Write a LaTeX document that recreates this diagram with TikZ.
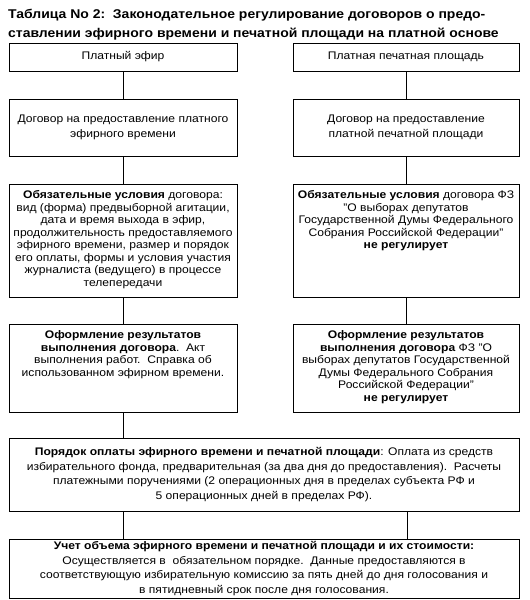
\documentclass[tikz,border=0pt]{standalone}
\usepackage{fontspec}
\setmainfont[FakeStretch=1.1]{Liberation Sans}
\begin{document}
\begin{tikzpicture}[x=1pt,y=-1pt,
  box/.style={draw, line width=0.8pt, inner sep=0pt},
  wl/.style={box, minimum width=228pt},
  wr/.style={box, minimum width=226pt},
  ww/.style={box, minimum width=510pt},
  body/.style={font=\fontsize{11}{12.5}\selectfont, align=center, inner sep=0pt},
  bodyw/.style={font=\fontsize{11}{14.6}\selectfont, align=center, inner sep=0pt},
  link/.style={line width=0.8pt}]
\useasboundingbox (0,0) rectangle (530,600);
\node[anchor=north west, inner sep=0pt, align=left, font=\bfseries\fontsize{12.7}{19}\selectfont] (title) at (8,9)
  {Таблица No 2:\ \ Законодательное регулирование договоров о предо-\\ставлении эфирного времени и печатной площади на платной основе};
% row 1
\node[wl, minimum height=28pt, font=\fontsize{11}{12.5}\selectfont] (L1) at (123,57) {Платный эфир};
\node[wr, minimum height=28pt, font=\fontsize{11}{12.5}\selectfont] (R1) at (406,57) {Платная печатная площадь};
% row 2
\node[wl, minimum height=57pt, align=center, font=\fontsize{11}{15}\selectfont] (L2) at (123,127.5) {Договор на предоставление платного\\эфирного времени};
\node[wr, minimum height=57pt, align=center, font=\fontsize{11}{15}\selectfont] (R2) at (406,127.5) {Договор на предоставление\\платной печатной площади};
% row 3
\node[wl, minimum height=113pt] (L3) at (123,240.5) {};
\node[wr, minimum height=113pt] (R3) at (406,240.5) {};
\node[body, anchor=north] (L3t) at ([yshift=-7pt]L3.north)
  {\textbf{Обязательные условия} договора:\\вид (форма) предвыборной агитации,\\дата и время выхода в эфир,\\продолжительность предоставляемого\\эфирного времени, размер и порядок\\его оплаты, формы и условия участия\\журналиста (ведущего) в процессе\\телепередачи};
\node[body, anchor=north] (R3t) at ([yshift=-7pt]R3.north)
  {\textbf{Обязательные условия} договора ФЗ\\"О выборах депутатов\\Государственной Думы Федерального\\Собрания Российской Федерации"\\\textbf{не регулирует}};
% row 4
\node[wl, minimum height=88pt] (L4) at (123,368) {};
\node[wr, minimum height=88pt] (R4) at (406,368) {};
\node[body, anchor=north] (L4t) at ([yshift=-7pt]L4.north)
  {\textbf{Оформление результатов}\\\textbf{выполнения договора}.\ \ Акт\\выполнения работ.\ \ Справка об\\использованном эфирном времени.};
\node[body, anchor=north] (R4t) at ([yshift=-7pt]R4.north)
  {\textbf{Оформление результатов}\\\textbf{выполнения договора} ФЗ "О\\выборах депутатов Государственной\\Думы Федерального Собрания\\Российской Федерации"\\\textbf{не регулирует}};
% row 5
\node[ww, minimum height=73pt, bodyw] (P) at (264,474.5)
  {\textbf{Порядок оплаты эфирного времени и печатной площади}: Оплата из средств\\избирательного фонда, предварительная (за два дня до предоставления).\ \ Расчеты\\платежными поручениями (2 операционных дня в пределах субъекта РФ и\\5 операционных дней в пределах РФ).};
% row 6
\node[ww, minimum height=59pt, bodyw] (B) at (264,568.5)
  {\textbf{Учет объема эфирного времени и печатной площади и их стоимости:}\\Осуществляется в\ \ обязательном порядке.\ \ Данные предоставляются в\\соответствующую избирательную комиссию за пять дней до дня голосования и\\в пятидневный срок после дня голосования.};
% connectors
\draw[link] (L1) -- (L2);
\draw[link] (L2) -- (L3);
\draw[link] (L3) -- (L4);
\draw[link] (L4.south) -- (L4.south |- P.north);
\draw[link] (R1) -- (R2);
\draw[link] (R2) -- (R3);
\draw[link] (R3) -- (R4);
\draw[link] (P.south -| L1) -- (B.north -| L1);
\draw[link] (P.south -| 407,0) -- (B.north -| 407,0);
\end{tikzpicture}
\end{document}
